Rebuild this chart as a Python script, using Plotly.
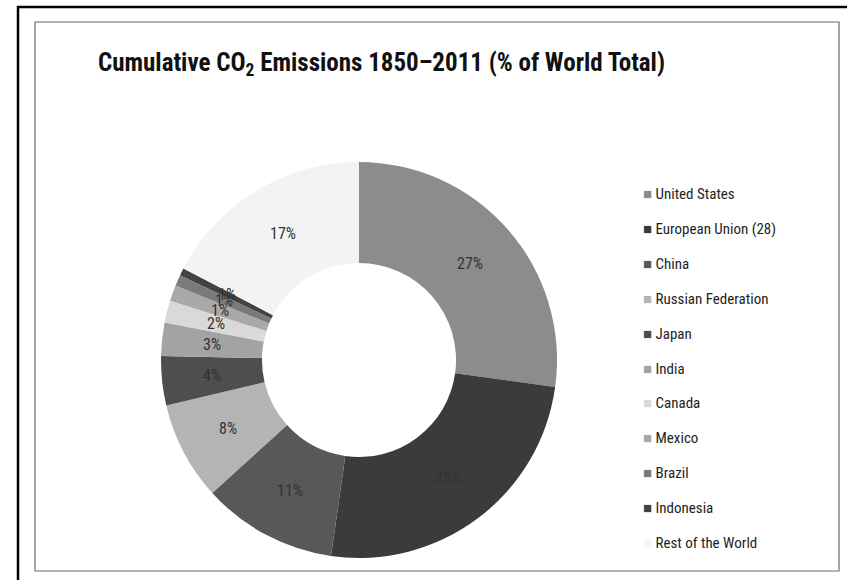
import math
import plotly.graph_objects as go

labels = ["United States", "European Union (28)", "China", "Russian Federation", "Japan",
          "India", "Canada", "Mexico", "Brazil", "Indonesia", "Rest of the World"]
values = [27.1, 25.0, 11.0, 8.0, 4.0, 2.7, 1.8, 1.3, 0.9, 0.6, 17.3]
colors = ["#8c8c8c", "#3b3b3b", "#585858", "#b4b4b4", "#4e4e4e", "#a3a3a3",
          "#d9d9d9", "#a9a9a9", "#7a7a7a", "#424242", "#f3f3f3"]

W, H = 847, 580
FONT = "Liberation Sans Narrow, Roboto Condensed, Arial Narrow, Liberation Sans, sans-serif"

cx, cy, r = 359, 360, 198
HOLE = 0.49
dom_x = [(cx - r) / W, (cx + r) / W]
dom_y = [1 - (cy + r) / H, 1 - (cy - r) / H]

fig = go.Figure()
fig.add_trace(go.Pie(
    labels=labels, values=values, sort=False, direction="clockwise", rotation=0,
    hole=HOLE,
    marker=dict(colors=colors, line=dict(width=0)),
    textinfo="none",
    showlegend=False, hoverinfo="label+percent",
    domain=dict(x=dom_x, y=dom_y),
))

def px(x):
    return x / W

def py(y):
    return 1 - y / H

shapes = [
    # outer black frame (left & top)
    dict(type="line", xref="paper", yref="paper", x0=px(18), x1=px(18), y0=py(6), y1=py(580),
         line=dict(color="#000000", width=2.5)),
    dict(type="line", xref="paper", yref="paper", x0=px(17), x1=px(847), y0=py(7), y1=py(7),
         line=dict(color="#000000", width=2.5)),
    # inner gray frame
    dict(type="rect", xref="paper", yref="paper", x0=px(35), x1=px(839), y0=py(571), y1=py(22),
         line=dict(color="#6a6a6a", width=1.2)),
]

annotations = [
    dict(text="<b>Cumulative CO<sub>2</sub> Emissions 1850–2011 (% of World Total)</b>",
         xref="paper", yref="paper", x=px(96), y=py(64), xanchor="left", yanchor="middle",
         showarrow=False, font=dict(family=FONT, size=25, color="#111111")),
]

# percentage labels at the middle of the ring, on each slice's mid-angle
total = sum(values)
rmid = (1 + HOLE) / 2
cum = 0.0
for v in values:
    frac_mid = (cum + v / 2) / total
    cum += v
    theta = math.radians(90 - 360 * frac_mid)
    annotations.append(dict(
        text=f"{round(100 * v / total)}%", xref="x", yref="y",
        x=rmid * math.cos(theta), y=rmid * math.sin(theta),
        xanchor="center", yanchor="middle", showarrow=False,
        font=dict(family=FONT, size=16, color="#333333"),
    ))

for i, (lab, col) in enumerate(zip(labels, colors)):
    yy = 194 + 34.9 * i
    annotations.append(dict(
        text=f"<span style='color:{col}'>■</span> {lab}",
        xref="paper", yref="paper", x=px(641), y=py(yy), xanchor="left", yanchor="middle",
        showarrow=False, font=dict(family=FONT, size=15, color="#1e1e1e"),
    ))

fig.update_layout(
    width=W, height=H, margin=dict(l=0, r=0, t=0, b=0),
    paper_bgcolor="white", plot_bgcolor="rgba(0,0,0,0)",
    xaxis=dict(domain=dom_x, range=[-1, 1], visible=False, fixedrange=True),
    yaxis=dict(domain=dom_y, range=[-1, 1], visible=False, fixedrange=True),
    shapes=shapes, annotations=annotations, showlegend=False,
)

fig.write_html("out.html")
